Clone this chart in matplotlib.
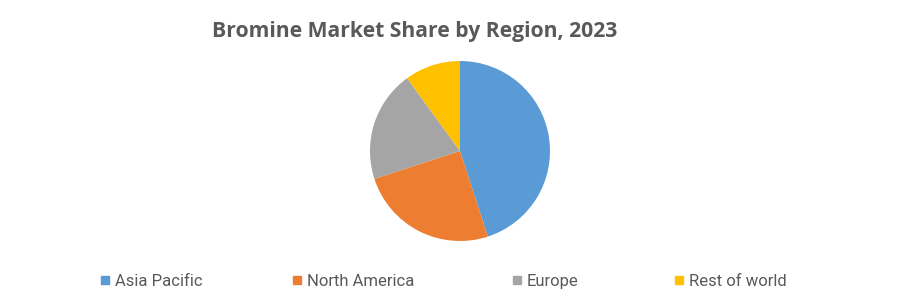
import matplotlib
matplotlib.use("Agg")
import matplotlib.pyplot as plt
from matplotlib.patches import Rectangle

regions = ["Asia Pacific", "North America", "Europe", "Rest of world"]
shares = [45, 25, 20, 10]
colors = ["#5B9BD5", "#ED7D31", "#A5A5A5", "#FFC000"]
title = "Bromine Market Share by Region, 2023"

W, H = 906, 305
fig = plt.figure(figsize=(W / 100, H / 100), dpi=100)
fig.patch.set_facecolor("white")

# pie centred at (460, 151) px, radius 90 px
cx, cy, r = 460, 151, 90
ax = fig.add_axes([(cx - r) / W, (H - cy - r) / H, 2 * r / W, 2 * r / H])
ax.pie(shares, colors=colors, startangle=90, counterclock=False,
       radius=1, wedgeprops=dict(linewidth=0))
ax.set_xlim(-1, 1)
ax.set_ylim(-1, 1)
ax.set_aspect("auto")
ax.axis("off")

fig.text(415 / W, 1 - 31 / H, title, ha="center", va="center",
         fontsize=15.2, fontweight="bold", color="#595959",
         family=["Open Sans", "DejaVu Sans"])

# legend, drawn by hand to match the uneven spacing
marker_x = [101, 293, 513, 675]
ly = 280
for x, lab, c in zip(marker_x, regions, colors):
    fig.patches.append(Rectangle((x / W, (H - ly - 4) / H), 8 / W, 8 / H,
                                 transform=fig.transFigure, color=c,
                                 figure=fig))
    fig.text((x + 14) / W, 1 - (ly + 1.5) / H, lab, ha="left", va="center",
             fontsize=12, color="#595959",
             family=["Liberation Sans Narrow", "Roboto", "DejaVu Sans"])

fig.savefig("out.png", dpi=100)
